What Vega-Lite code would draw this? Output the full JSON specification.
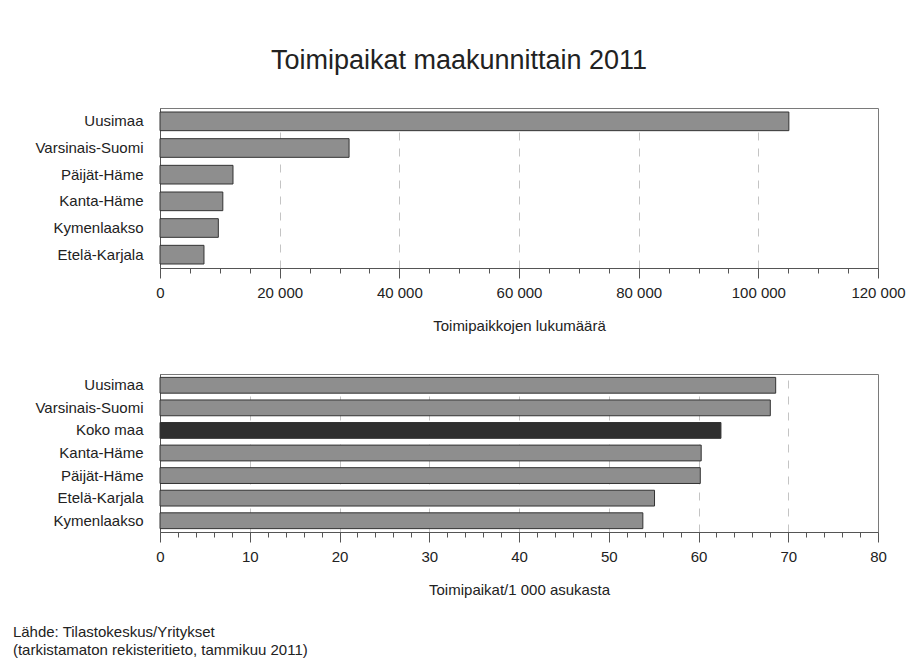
{
  "$schema": "https://vega.github.io/schema/vega-lite/v6.json",
  "background": "white",
  "padding": {"left": 12, "top": 46, "right": 5, "bottom": 5},
  "config": {
    "font": "Liberation Sans",
    "locale": {"number": {"decimal": ",", "thousands": " ", "grouping": [3], "currency": ["", " €"]}},
    "view": {"stroke": "#7a7a7a", "strokeWidth": 1},
    "axis": {
      "labelFont": "Liberation Sans", "labelFontSize": 15, "labelColor": "#222",
      "titleFont": "Liberation Sans", "titleFontSize": 15, "titleFontWeight": "normal", "titleColor": "#222",
      "domainColor": "#555", "tickColor": "#555"
    }
  },
  "title": {"text": "Toimipaikat maakunnittain 2011", "fontSize": 27, "fontWeight": "normal", "color": "#222", "anchor": "middle", "offset": 33, "font": "Liberation Sans"},
  "spacing": 39,
  "vconcat": [
    {
      "width": 718,
      "height": 160,
      "data": {"values": [
        {"alue": "Uusimaa", "toimipaikat": 105100},
        {"alue": "Varsinais-Suomi", "toimipaikat": 31600},
        {"alue": "Päijät-Häme", "toimipaikat": 12200},
        {"alue": "Kanta-Häme", "toimipaikat": 10500},
        {"alue": "Kymenlaakso", "toimipaikat": 9750},
        {"alue": "Etelä-Karjala", "toimipaikat": 7350}
      ]},
      "mark": {"type": "bar", "fill": "#8e8e8e", "stroke": "#333", "strokeWidth": 1},
      "encoding": {
        "y": {"field": "alue", "type": "nominal", "sort": null,
          "scale": {"paddingInner": 0.3, "paddingOuter": 0.15},
          "axis": {"title": null, "ticks": false, "labelPadding": 17}},
        "x": {"field": "toimipaikat", "type": "quantitative",
          "scale": {"domain": [0, 120000], "nice": false},
          "axis": {
            "title": "Toimipaikkojen lukumäärä",
            "values": [0,5000,10000,15000,20000,25000,30000,35000,40000,45000,50000,55000,60000,65000,70000,75000,80000,85000,90000,95000,100000,105000,110000,115000,120000],
            "format": ",d",
            "labelExpr": "datum.value % 20000 === 0 ? datum.label : ''",
            "labelOverlap": false, "labelFlush": false,
            "tickSize": {"condition": {"test": "datum.value % 20000 === 0", "value": 10}, "value": 5},
            "grid": true, "gridDash": [8, 8], "gridColor": "#c4c4c4",
            "gridOpacity": {"condition": {"test": "datum.value % 20000 === 0 && datum.value > 0 && datum.value < 120000", "value": 1}, "value": 0},
            "labelPadding": 7, "titlePadding": 18
          }}
      }
    },
    {
      "width": 718,
      "height": 158,
      "data": {"values": [
        {"alue": "Uusimaa", "per1000": 68.6},
        {"alue": "Varsinais-Suomi", "per1000": 68.0},
        {"alue": "Koko maa", "per1000": 62.5},
        {"alue": "Kanta-Häme", "per1000": 60.3},
        {"alue": "Päijät-Häme", "per1000": 60.2},
        {"alue": "Etelä-Karjala", "per1000": 55.1},
        {"alue": "Kymenlaakso", "per1000": 53.8}
      ]},
      "title": {
        "text": ["Lähde: Tilastokeskus/Yritykset", "(tarkistamaton rekisteritieto, tammikuu 2011)"],
        "orient": "bottom", "anchor": "start", "frame": "bounds",
        "fontSize": 15, "fontWeight": "normal", "color": "#222", "lineHeight": 18,
        "offset": 28, "dx": -22, "font": "Liberation Sans"
      },
      "mark": {"type": "bar", "stroke": "#333", "strokeWidth": 1},
      "encoding": {
        "y": {"field": "alue", "type": "nominal", "sort": null,
          "scale": {"paddingInner": 0.3, "paddingOuter": 0.15},
          "axis": {"title": null, "ticks": false, "labelPadding": 17}},
        "x": {"field": "per1000", "type": "quantitative",
          "scale": {"domain": [0, 80], "nice": false},
          "axis": {
            "title": "Toimipaikat/1 000 asukasta",
            "values": [0,2,4,6,8,10,12,14,16,18,20,22,24,26,28,30,32,34,36,38,40,42,44,46,48,50,52,54,56,58,60,62,64,66,68,70,72,74,76,78,80],
            "labelExpr": "datum.value % 10 === 0 ? datum.label : ''",
            "labelOverlap": false, "labelFlush": false,
            "tickSize": {"condition": {"test": "datum.value % 10 === 0", "value": 10}, "value": 5},
            "grid": true, "gridDash": [8, 8], "gridColor": "#c4c4c4",
            "gridOpacity": {"condition": {"test": "datum.value % 10 === 0 && datum.value > 0 && datum.value < 80", "value": 1}, "value": 0},
            "labelPadding": 7, "titlePadding": 18
          }},
        "fill": {"condition": {"test": "datum.alue === 'Koko maa'", "value": "#2f2f2f"}, "value": "#8e8e8e"}
      }
    }
  ]
}
